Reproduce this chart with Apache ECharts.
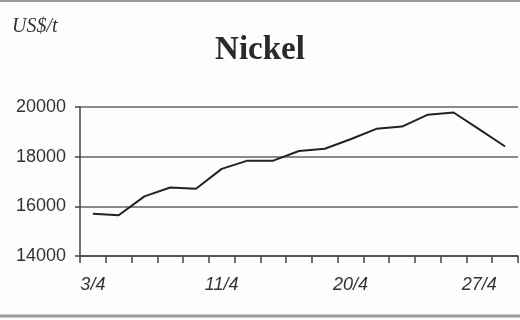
<!DOCTYPE html>
<html>
<head>
<meta charset="utf-8">
<style>
  html, body { margin: 0; padding: 0; background: #fdfdfd; }
  #chart { width: 520px; height: 320px; }
</style>
<script src="https://cdn.jsdelivr.net/npm/echarts@6/dist/echarts.min.js"></script>
</head>
<body>
<div id="chart"></div>
<script>
// Trading days in April (only every fifth one is labelled)
var days = ['3/4', '4/4', '5/4', '6/4', '10/4', '11/4', '12/4', '13/4', '16/4',
            '17/4', '20/4', '23/4', '24/4', '25/4', '26/4', '27/4', '30/4'];
// Nickel price, US$ per tonne
var nickel = [15700, 15640, 16400, 16760, 16710, 17510, 17840, 17840, 18230,
              18320, 18700, 19120, 19210, 19690, 19780, 19100, 18410];
// Price axis ticks
var yTicks = [14000, 16000, 18000, 20000];

var chart = echarts.init(document.getElementById('chart'), null, { renderer: 'canvas' });

chart.setOption({
  backgroundColor: '#fdfdfd',
  animation: false,
  title: {
    text: 'Nickel',
    left: 'center',
    top: 29,
    textStyle: {
      fontFamily: 'Liberation Serif',
      fontWeight: 'bold',
      fontSize: 33,
      color: '#2a2a2a'
    }
  },
  graphic: [
    {
      type: 'text',
      left: 12,
      top: 17,
      style: {
        text: 'US$/t',
        fontFamily: 'Liberation Serif',
        fontStyle: 'italic',
        fontSize: 20,
        fill: '#333'
      }
    },
    { type: 'line', shape: { x1: 0, y1: 1, x2: 520, y2: 1 }, style: { stroke: '#9a9a9a', lineWidth: 2 } },
    { type: 'line', shape: { x1: 0, y1: 316, x2: 520, y2: 316 }, style: { stroke: '#9a9a9a', lineWidth: 3 } }
  ],
  grid: { left: 80, right: 2, top: 107, bottom: 64 },
  xAxis: {
    type: 'category',
    data: days,
    boundaryGap: true,
    axisLine: { lineStyle: { color: '#444', width: 1.5 } },
    axisTick: { show: true, interval: 0, length: 7, lineStyle: { color: '#444', width: 1.5 } },
    axisLabel: {
      interval: 4,
      margin: 20,
      fontFamily: 'Liberation Sans',
      fontStyle: 'italic',
      fontSize: 18,
      color: '#333'
    },
    splitLine: { show: false }
  },
  yAxis: {
    type: 'value',
    min: yTicks[0],
    max: yTicks[yTicks.length - 1],
    interval: yTicks[1] - yTicks[0],
    axisLine: { show: true, lineStyle: { color: '#444', width: 1.5 } },
    axisTick: { show: true, length: 5, lineStyle: { color: '#444', width: 1.5 } },
    axisLabel: {
      margin: 14,
      formatter: function (v) { return String(v); },
      fontFamily: 'Liberation Sans',
      fontSize: 18,
      color: '#333'
    },
    splitLine: { show: true, lineStyle: { color: '#8a8a8a', width: 2 } }
  },
  series: [{
    type: 'line',
    data: nickel,
    symbol: 'none',
    lineStyle: { color: '#222', width: 2 }
  }]
});
</script>
</body>
</html>
